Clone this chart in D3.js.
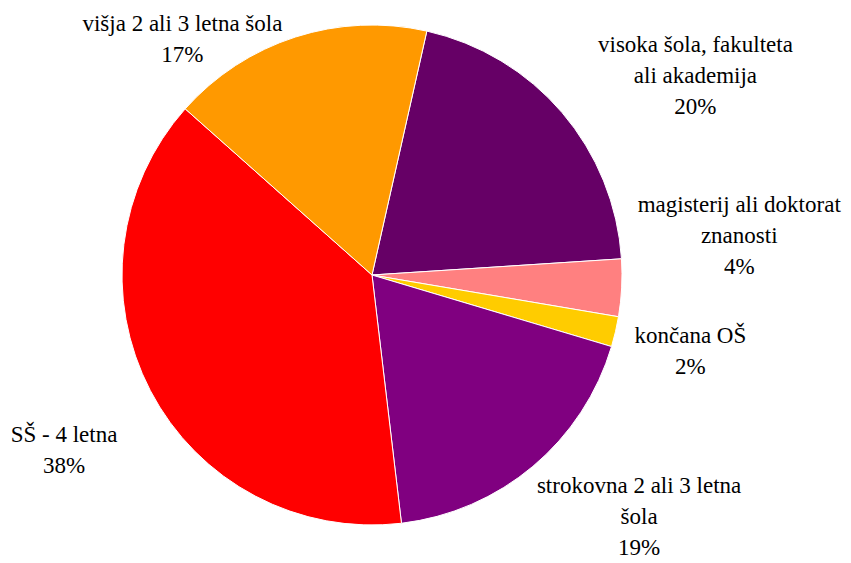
<!DOCTYPE html>
<html>
<head>
<meta charset="utf-8">
<script src="https://cdn.jsdelivr.net/npm/d3@7"></script>
</head>
<body style="margin:0">
<script>
// categories in clockwise order, "\n" marks the label line breaks
const categories = [
    "visoka šola, fakulteta\nali akademija",
    "magisterij ali doktorat\nznanosti",
    "končana OŠ",
    "strokovna 2 ali 3 letna\nšola",
    "SŠ - 4 letna",
    "višja 2 ali 3 letna šola"
];
const shares = [20.45, 3.7, 1.95, 18.5, 38.45, 16.95];
const colors = ["#660066", "#ff8080", "#ffcc00", "#800080", "#ff0000", "#ff9900"];

const WIDTH = 851, HEIGHT = 563;
const CX = 372, CY = 275, RADIUS = 250;
const START = 12.67 * Math.PI / 180;
const LINE_HEIGHT = 31;
const FONT = "Liberation Serif";
const FONT_SIZE = 23;

// small hand nudges for the labels (Excel moved some of them)
const nudges = [[20, -4], [0, -53], [3, 14], [-12, 16], [-17, 47], [3, 0]];

const svg = d3.select("body").append("svg")
    .attr("width", WIDTH)
    .attr("height", HEIGHT);

const g = svg.append("g").attr("transform", `translate(${CX},${CY})`);

const pie = d3.pie().sort(null).value(d => d.value)
    .startAngle(START).endAngle(START + 2 * Math.PI);
const arc = d3.arc().innerRadius(0).outerRadius(RADIUS);

const data = categories.map((c, i) => ({ name: c, value: shares[i], color: colors[i] }));
const total = d3.sum(shares);
const arcs = pie(data);
const pct = d3.format(".0%");

g.selectAll("path.slice")
    .data(arcs)
    .enter().append("path")
    .attr("class", "slice")
    .attr("d", arc)
    .attr("fill", d => d.data.color)
    .attr("stroke", "#fff")
    .attr("stroke-width", 1);

// labels: one text element per line
arcs.forEach((d, i) => {
    const lines = d.data.name.split("\n").concat([pct(d.data.value / total)]);
    const mid = (d.startAngle + d.endAngle) / 2;
    const s = Math.sin(mid), c = Math.cos(mid);
    const px = CX + RADIUS * s, py = CY - RADIUS * c;

    const texts = lines.map(l => svg.append("text")
        .attr("font-family", FONT)
        .attr("font-size", FONT_SIZE)
        .attr("text-anchor", "middle")
        .text(l));
    const w = d3.max(texts, t => t.node().getComputedTextLength());
    const h = (lines.length - 1) * LINE_HEIGHT + 21;

    let cx = s > 0 ? px + 16 + w / 2 : px - 16 - w / 2;
    let cy = py - c * (h / 2 + 6);
    let top = Math.max(15, cy - h / 2);
    cx += nudges[i][0];
    top += nudges[i][1];
    const base = top + 16;

    texts.forEach((t, k) => t.attr("x", cx).attr("y", base + k * LINE_HEIGHT));
});
</script>
</body>
</html>
